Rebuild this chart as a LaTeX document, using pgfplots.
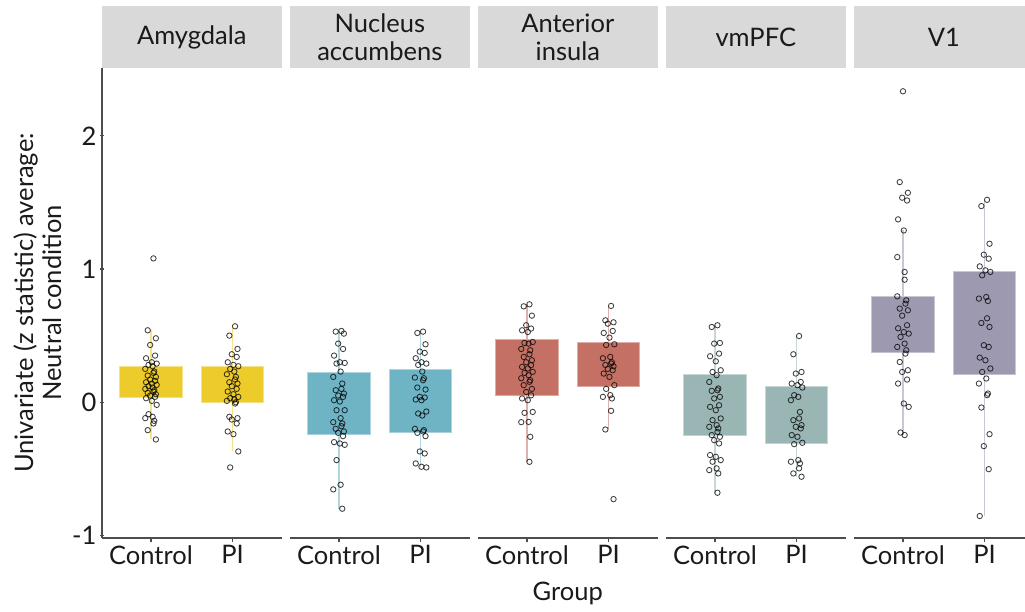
\documentclass[border=0pt]{standalone}
\usepackage{pgfplots}
\pgfplotsset{compat=1.18}
\usepgfplotslibrary{statistics}
\usepackage{fontspec}
\setmainfont{Lato}
\definecolor{amy}{HTML}{EDCB2B}
\definecolor{nacc}{HTML}{6EB4C5}
\definecolor{ins}{HTML}{C47064}
\definecolor{vm}{HTML}{9AB6B4}
\definecolor{vone}{HTML}{9D99B1}
\definecolor{stripc}{HTML}{D9D9D9}
\definecolor{axgray}{HTML}{4D4D4D}
\definecolor{txt}{HTML}{1A1A1A}
\newcommand{\fs}{\fontsize{25.5}{28}\selectfont}
\newcommand{\bx}[6]{\addplot[boxplot prepared={draw direction=y, draw position=#1, lower whisker=#2, lower quartile=#3, median=#3, upper quartile=#4, upper whisker=#5, box extend=0.76, whisker extend=0}, fill=#6, draw=#6!55!white, line width=1pt] coordinates {};}
\pgfplotsset{
  panel/.style={
    scale only axis, width=179.6pt, height=470pt,
    xmin=0.4, xmax=2.6, ymin=-1.02, ymax=2.51,
    axis x line=bottom,
    axis line style={-, draw=axgray, line width=1.3pt},
    xtick={1,2}, xticklabels={Control,PI},
    tick align=outside, major tick length=4pt,
    every tick/.style={draw=axgray, line width=1.1pt},
    tick label style={font=\fs, text=txt},
    /pgf/number format/assume math mode=true,
    clip=false, anchor=south west,
    boxplot/draw direction=y,
    boxplot/every median/.style={draw=none},
    boxplot/every whisker/.style={line width=1.6pt},
  },
  inner/.style={axis y line=none, ytick=\empty},
  pts/.style={only marks, mark=o, mark size=2.7pt, mark options={draw=black, line width=0.85pt, draw opacity=0.75}},
}
\newcommand{\strip}[1]{\fill[stripc] (axis cs:0.4,2.51) rectangle ([yshift=62pt]axis cs:2.6,2.51);
\node[font=\fs, text=txt, align=center] at ([yshift=30.5pt]axis cs:1.5,2.51) {#1};}
\begin{document}
\begin{tikzpicture}
\useasboundingbox (0,0) rectangle (1025pt,611pt);
% Panel 1
\begin{axis}[panel, at={(102pt,73pt)}, axis y line=left,
  axis line style={-, draw=axgray, line width=1.3pt},
  ytick={-1,0,1,2}, yticklabels={-1,0,1,2},
  ylabel={Univariate (z statistic) average:\\Neutral condition},
  ylabel style={at={(axis description cs:-0.36,0.5)}, anchor=center, align=center, font=\fs, text=txt}]
\strip{Amygdala}
\bx{1}{-0.28}{0.035}{0.265}{0.54}{amy}
\bx{2}{-0.37}{0.0}{0.27}{0.57}{amy}
\addplot[pts] coordinates {(1.03,1.08) (0.96,0.54) (1.06,0.48) (0.99,0.43) (1.05,0.35) (0.94,0.33) (1.01,0.30) (1.07,0.29) (0.97,0.28) (1.02,0.27) (0.93,0.25) (1.04,0.23) (1.03,0.22) (0.96,0.20) (1.06,0.19) (0.99,0.17) (1.05,0.16) (0.94,0.15) (1.01,0.14) (1.07,0.13) (0.97,0.12) (1.02,0.11) (0.93,0.10) (1.04,0.09) (1.03,0.08) (0.96,0.07) (1.06,0.06) (0.99,0.05) (1.05,0.04) (0.94,0.03) (1.01,0.01) (1.07,-0.02) (0.97,-0.09) (1.02,-0.11) (0.93,-0.12) (1.04,-0.14) (1.03,-0.16) (0.96,-0.21) (1.06,-0.28)};
\addplot[pts] coordinates {(2.03,0.57) (1.96,0.50) (2.06,0.40) (1.99,0.36) (2.05,0.34) (1.94,0.30) (2.01,0.28) (2.07,0.27) (1.97,0.25) (2.02,0.23) (1.93,0.21) (2.04,0.19) (2.03,0.17) (1.96,0.15) (2.06,0.14) (1.99,0.12) (2.05,0.10) (1.94,0.08) (2.01,0.06) (2.07,0.04) (1.97,0.03) (2.02,0.02) (1.93,0.01) (2.04,0.00) (2.03,-0.01) (1.96,-0.11) (2.06,-0.12) (1.99,-0.13) (2.05,-0.16) (1.94,-0.22) (2.01,-0.24) (2.07,-0.37) (1.97,-0.49)};
\end{axis}
% Panel 2
\begin{axis}[panel, inner, at={(290pt,73pt)}]
\strip{Nucleus\\accumbens}
\bx{1}{-0.80}{-0.245}{0.225}{0.535}{nacc}
\bx{2}{-0.49}{-0.23}{0.245}{0.53}{nacc}
\addplot[pts] coordinates {(1.03,0.535) (0.96,0.53) (1.06,0.515) (0.99,0.44) (1.05,0.40) (0.94,0.35) (1.01,0.30) (1.07,0.295) (0.97,0.29) (1.02,0.23) (0.93,0.19) (1.04,0.14) (1.03,0.10) (0.96,0.09) (1.06,0.065) (0.99,0.05) (1.05,0.04) (0.94,0.015) (1.01,0.005) (1.07,-0.06) (0.97,-0.06) (1.02,-0.12) (0.93,-0.15) (1.04,-0.16) (1.03,-0.18) (0.96,-0.20) (1.06,-0.22) (0.99,-0.23) (1.05,-0.255) (0.94,-0.30) (1.01,-0.31) (1.07,-0.32) (0.97,-0.435) (1.02,-0.62) (0.93,-0.655) (1.04,-0.80)};
\addplot[pts] coordinates {(2.03,0.53) (1.96,0.52) (2.06,0.435) (1.99,0.38) (2.05,0.37) (1.94,0.33) (2.01,0.30) (2.07,0.29) (1.97,0.28) (2.02,0.23) (1.93,0.185) (2.04,0.18) (2.03,0.165) (1.96,0.11) (2.06,0.095) (1.99,0.04) (2.05,0.035) (1.94,0.02) (2.01,0.015) (2.07,-0.07) (1.97,-0.085) (2.02,-0.10) (1.93,-0.20) (2.04,-0.21) (2.03,-0.22) (1.96,-0.23) (2.06,-0.255) (1.99,-0.37) (2.05,-0.385) (1.94,-0.46) (2.01,-0.485) (2.07,-0.49)};
\end{axis}
% Panel 3
\begin{axis}[panel, inner, at={(478pt,73pt)}, xlabel={Group},
  xlabel style={at={(axis description cs:0.5,-0.117)}, anchor=center, font=\fs, text=txt}]
\strip{Anterior\\insula}
\bx{1}{-0.448}{0.052}{0.47}{0.735}{ins}
\bx{2}{-0.205}{0.115}{0.452}{0.723}{ins}
\addplot[pts] coordinates {(1.03,0.735) (0.96,0.72) (1.06,0.65) (0.99,0.578) (1.05,0.553) (0.94,0.54) (1.01,0.527) (1.07,0.452) (0.97,0.445) (1.02,0.44) (0.93,0.40) (1.04,0.39) (1.03,0.36) (0.96,0.34) (1.06,0.315) (0.99,0.30) (1.05,0.278) (0.94,0.265) (1.01,0.253) (1.07,0.228) (0.97,0.22) (1.02,0.203) (0.93,0.18) (1.04,0.165) (1.03,0.153) (0.96,0.128) (1.06,0.10) (0.99,0.077) (1.05,0.052) (0.94,0.028) (1.01,0.015) (1.07,-0.073) (0.97,-0.08) (1.02,-0.148) (0.93,-0.15) (1.04,-0.26) (1.03,-0.448)};
\addplot[pts] coordinates {(2.03,0.723) (1.96,0.615) (2.06,0.60) (1.99,0.59) (2.05,0.535) (1.94,0.52) (2.01,0.485) (2.07,0.435) (1.97,0.43) (2.02,0.34) (1.93,0.33) (2.04,0.30) (2.03,0.29) (1.96,0.28) (2.06,0.27) (1.99,0.25) (2.05,0.24) (1.94,0.215) (2.01,0.19) (2.07,0.128) (1.97,0.10) (2.02,0.053) (1.93,0.04) (2.04,0.028) (2.03,-0.065) (1.96,-0.205) (2.06,-0.728)};
\end{axis}
% Panel 4
\begin{axis}[panel, inner, at={(666pt,73pt)}]
\strip{vmPFC}
\bx{1}{-0.68}{-0.253}{0.21}{0.578}{vm}
\bx{2}{-0.56}{-0.31}{0.12}{0.497}{vm}
\addplot[pts] coordinates {(1.03,0.578) (0.96,0.565) (1.06,0.445) (0.99,0.44) (1.05,0.365) (0.94,0.345) (1.01,0.307) (1.07,0.24) (0.97,0.227) (1.02,0.203) (0.93,0.152) (1.04,0.103) (1.03,0.09) (0.96,0.085) (1.06,0.04) (0.99,0.028) (1.05,-0.023) (0.94,-0.035) (1.01,-0.06) (1.07,-0.122) (0.97,-0.135) (1.02,-0.172) (0.93,-0.185) (1.04,-0.197) (1.03,-0.223) (0.96,-0.247) (1.06,-0.26) (0.99,-0.285) (1.05,-0.31) (0.94,-0.397) (1.01,-0.41) (1.07,-0.435) (0.97,-0.447) (1.02,-0.497) (0.93,-0.51) (1.04,-0.535) (1.03,-0.68)};
\addplot[pts] coordinates {(2.03,0.497) (1.96,0.36) (2.06,0.227) (1.99,0.215) (2.05,0.152) (1.94,0.14) (2.01,0.128) (2.07,0.11) (1.97,0.053) (2.02,0.04) (1.93,0.015) (2.04,-0.073) (2.03,-0.122) (1.96,-0.135) (2.06,-0.172) (1.99,-0.185) (2.05,-0.197) (1.94,-0.247) (2.01,-0.26) (2.07,-0.305) (1.97,-0.315) (2.02,-0.435) (1.93,-0.447) (2.04,-0.46) (2.03,-0.497) (1.96,-0.535) (2.06,-0.56)};
\end{axis}
% Panel 5
\begin{axis}[panel, inner, at={(854pt,73pt)}, width=171pt, xmax=2.4946]
\strip{V1}
\bx{1}{-0.247}{0.372}{0.797}{1.29}{vone}
\bx{2}{-0.855}{0.208}{0.985}{1.52}{vone}
\addplot[pts] coordinates {(1.00,2.335) (0.96,1.653) (1.06,1.573) (0.99,1.536) (1.05,1.515) (0.94,1.373) (1.01,1.29) (0.93,1.09) (1.02,0.978) (1.02,0.92) (0.93,0.795) (1.04,0.765) (1.03,0.74) (0.96,0.703) (1.06,0.69) (0.99,0.65) (1.05,0.578) (0.94,0.555) (1.01,0.527) (1.07,0.515) (0.97,0.49) (1.02,0.44) (0.93,0.415) (1.04,0.39) (1.03,0.365) (0.96,0.302) (1.06,0.24) (0.99,0.227) (1.05,0.17) (0.94,0.14) (1.01,-0.01) (1.07,-0.035) (0.97,-0.228) (1.02,-0.247)};
\addplot[pts] coordinates {(2.03,1.52) (1.96,1.473) (2.06,1.19) (1.99,1.108) (2.05,1.078) (1.94,1.02) (2.01,0.99) (2.07,0.978) (1.97,0.953) (2.02,0.79) (1.93,0.778) (2.04,0.76) (2.03,0.63) (1.96,0.595) (2.06,0.565) (1.99,0.428) (2.05,0.415) (1.94,0.335) (2.01,0.315) (2.07,0.253) (1.97,0.227) (2.02,0.178) (1.93,0.14) (2.04,0.065) (2.03,0.053) (1.96,-0.04) (2.06,-0.24) (1.99,-0.33) (2.05,-0.503) (1.94,-0.855)};
\end{axis}
\end{tikzpicture}
\end{document}
